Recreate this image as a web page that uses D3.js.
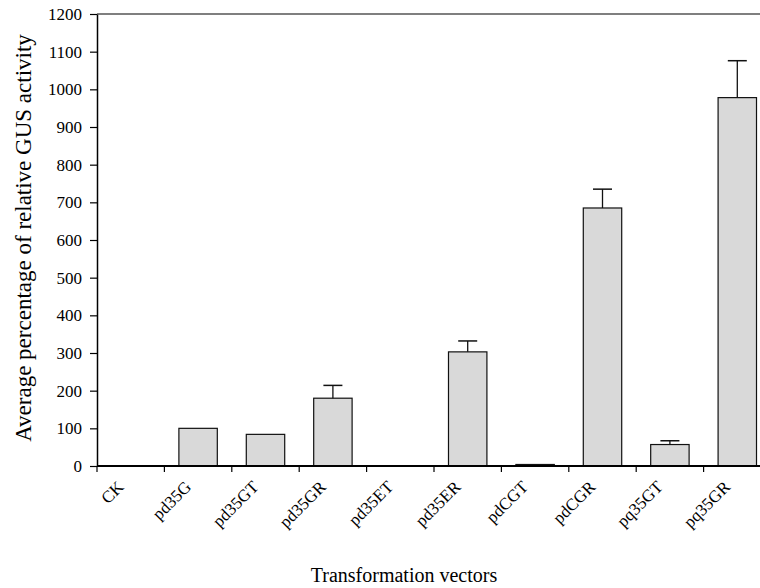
<!DOCTYPE html>
<html>
<head>
<meta charset="utf-8">
<script src="https://cdn.jsdelivr.net/npm/d3@7"></script>
<style>
  body { margin: 0; background: #fff; }
</style>
</head>
<body>
<div id="chart"></div>
<script>
const vectors = ["CK", "pd35G", "pd35GT", "pd35GR", "pd35ET", "pd35ER", "pdCGT", "pdCGR", "pq35GT", "pq35GR"];
const activity = [0, 100, 84, 180, 0, 303, 4, 685, 57, 978];
const errors = [0, 0, 0, 34, 0, 29, 0, 50, 10, 98];
const yTicks = [0, 100, 200, 300, 400, 500, 600, 700, 800, 900, 1000, 1100, 1200];

const W = 760, H = 588;
const mar = {top: 14, right: -11, bottom: 122, left: 97};
const FONT = "'Liberation Serif', 'Times New Roman', Times, serif";

const svg = d3.select("#chart").append("svg")
    .attr("width", W)
    .attr("height", H)
    .attr("font-family", FONT);

const x = d3.scaleBand()
    .domain(vectors)
    .range([mar.left, W - mar.right])
    .paddingInner(0.43)
    .paddingOuter(0.215);

const step = x.step();
const x0 = mar.left;

const y = d3.scaleLinear()
    .domain([0, 1200])
    .range([H - mar.bottom, mar.top]);

// top frame line
svg.append("line")
    .attr("x1", x0).attr("x2", W)
    .attr("y1", y(1200)).attr("y2", y(1200))
    .attr("stroke", "#555").attr("stroke-width", 1.5);

// bars
const data = vectors.map((v, i) => ({name: v, value: activity[i], err: errors[i]}));

svg.selectAll("rect.bar")
    .data(data)
    .enter()
    .append("rect")
    .attr("class", "bar")
    .attr("x", d => x(d.name))
    .attr("y", d => y(d.value))
    .attr("width", x.bandwidth())
    .attr("height", d => y(0) - y(d.value))
    .attr("fill", "#d9d9d9")
    .attr("stroke", "#111")
    .attr("stroke-width", 1.2);

// error bars (upper only)
const eb = svg.selectAll("g.err")
    .data(data.filter(d => d.err > 0))
    .enter()
    .append("g")
    .attr("class", "err");

eb.append("line")
    .attr("x1", d => x(d.name) + x.bandwidth() / 2)
    .attr("x2", d => x(d.name) + x.bandwidth() / 2)
    .attr("y1", d => y(d.value))
    .attr("y2", d => y(d.value + d.err))
    .attr("stroke", "#111").attr("stroke-width", 1.3);

eb.append("line")
    .attr("x1", d => x(d.name) + x.bandwidth() / 2 - 9.5)
    .attr("x2", d => x(d.name) + x.bandwidth() / 2 + 9.5)
    .attr("y1", d => y(d.value + d.err))
    .attr("y2", d => y(d.value + d.err))
    .attr("stroke", "#111").attr("stroke-width", 1.5);

// y axis
const yAxis = svg.append("g")
    .attr("transform", "translate(" + x0 + ",0)")
    .call(d3.axisLeft(y).tickValues(yTicks).tickFormat(d3.format("d"))
        .tickSize(7).tickPadding(8).tickSizeOuter(0));
yAxis.attr("font-family", FONT).attr("font-size", 17);
yAxis.select(".domain").attr("stroke", "#000").attr("stroke-width", 1.5);
yAxis.selectAll(".tick line").attr("stroke", "#000").attr("stroke-width", 1.2);
yAxis.selectAll("text").attr("fill", "#000");

// x axis line and ticks at band boundaries
svg.append("line")
    .attr("x1", x0).attr("x2", W)
    .attr("y1", y(0)).attr("y2", y(0))
    .attr("stroke", "#000").attr("stroke-width", 1.8);

svg.selectAll("line.xtick")
    .data(vectors)
    .enter()
    .append("line")
    .attr("class", "xtick")
    .attr("x1", (d, i) => x0 + i * step)
    .attr("x2", (d, i) => x0 + i * step)
    .attr("y1", y(0))
    .attr("y2", y(0) + 6)
    .attr("stroke", "#000").attr("stroke-width", 1.2);

// x tick labels, rotated 45 degrees
svg.selectAll("text.xlab")
    .data(vectors)
    .enter()
    .append("text")
    .attr("class", "xlab")
    .attr("text-anchor", "end")
    .attr("font-size", 17)
    .attr("transform", d => `translate(${x(d) + x.bandwidth() / 2 - 6},${y(0) + 22}) rotate(-45)`)
    .text(d => d);

// axis titles
svg.append("text")
    .attr("x", 404)
    .attr("y", 582)
    .attr("text-anchor", "middle")
    .attr("font-size", 20)
    .text("Transformation vectors");

svg.append("text")
    .attr("transform", "translate(31,238) rotate(-90)")
    .attr("text-anchor", "middle")
    .attr("font-size", 23)
    .text("Average percentage of relative GUS activity");
</script>
</body>
</html>
